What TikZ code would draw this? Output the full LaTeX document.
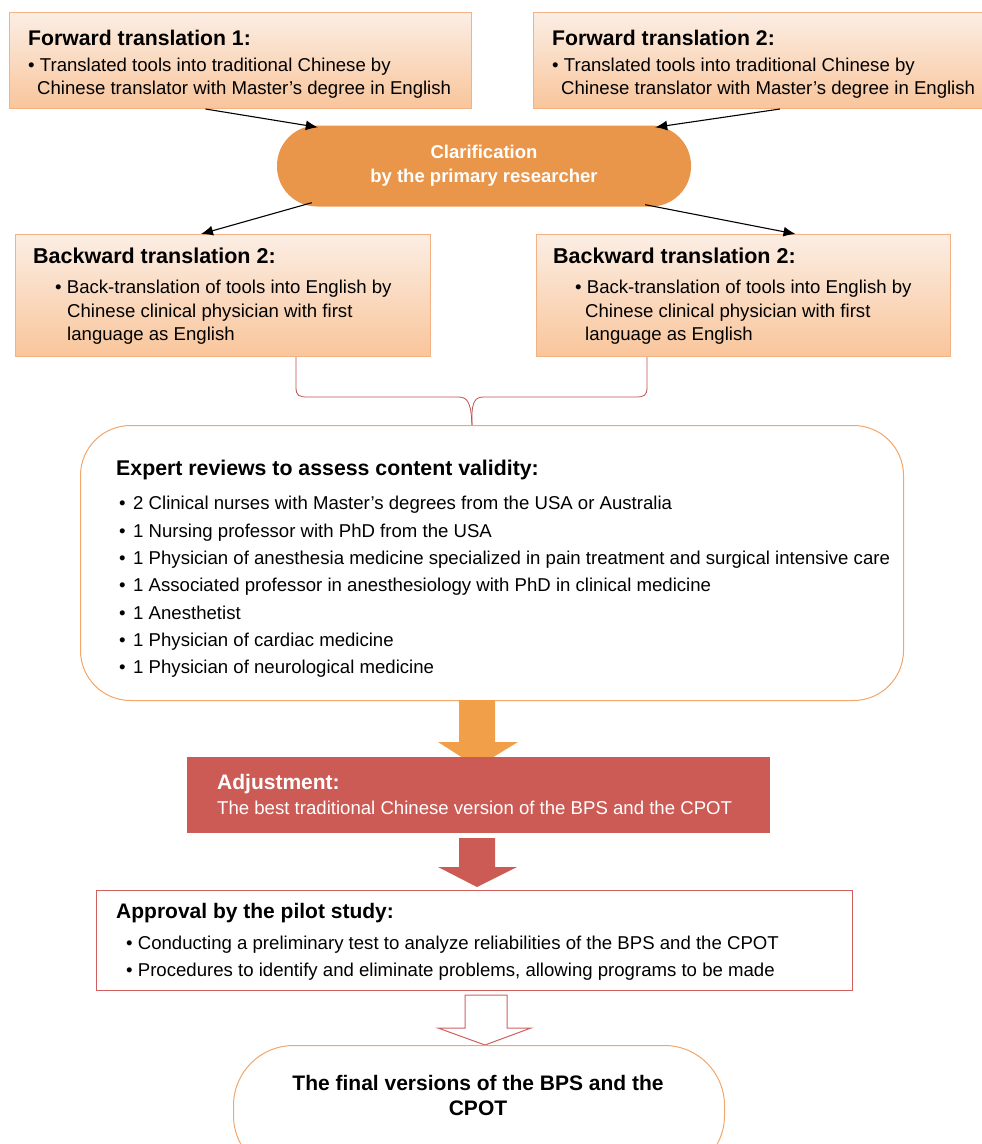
\documentclass[tikz,border=0pt]{standalone}
\usepackage{fontspec}
\setmainfont{Liberation Sans}
\usetikzlibrary{calc,arrows.meta}

\definecolor{boxtop}{HTML}{FBEEE4}
\definecolor{boxbot}{HTML}{F9C59B}
\definecolor{boxline}{HTML}{F4B183}
\definecolor{clarfill}{HTML}{E9964A}
\definecolor{orangeline}{HTML}{F2A66A}
\definecolor{orangearrow}{HTML}{F29F4A}
\definecolor{adjfill}{HTML}{CD5B55}
\definecolor{redline}{HTML}{D0605E}
\definecolor{braceline}{HTML}{C0504D}

\begin{document}
\begin{tikzpicture}[x=1pt,y=-1pt,
    transbox/.style={draw=boxline, line width=1pt, top color=boxtop, bottom color=boxbot,
      anchor=north west, inner sep=0pt},
    boxtext/.style={anchor=north west, align=left, inner sep=0pt},
    thinarrow/.style={-{Latex[length=12pt,width=10pt]}, line width=1.1pt},
    brace/.style={draw=braceline, line width=0.8pt}]
  \useasboundingbox (0,0) rectangle (982,1144);
  \clip (0,0) rectangle (982,1144);

  % forward translations
  \node[transbox, minimum width=462pt, minimum height=96pt] (fwd1) at (9,12) {};
  \node[transbox, minimum width=449pt, minimum height=96pt] (fwd2) at (533,12) {};
  \node[boxtext, font=\fontsize{18.6}{23}\selectfont] (fwd1txt) at (28,30)
    {{\bfseries\fontsize{21.2}{23}\selectfont Forward translation 1:}\\[3pt]
     \textbullet\ Translated tools into traditional Chinese by\\
     \hspace*{9pt}Chinese translator with Master's degree in English};
  \node[boxtext, font=\fontsize{18.6}{23}\selectfont] (fwd2txt) at (552,30)
    {{\bfseries\fontsize{21.2}{23}\selectfont Forward translation 2:}\\[3pt]
     \textbullet\ Translated tools into traditional Chinese by\\
     \hspace*{9pt}Chinese translator with Master's degree in English};

  \node[fill=clarfill, text=white, font=\bfseries\fontsize{18.5}{24}\selectfont, align=center,
    rounded corners=40pt, minimum width=414pt, minimum height=81pt] (clar) at (484,166)
    {Clarification\\by the primary researcher};

  % backward translations
  \node[transbox, minimum width=415pt, minimum height=122pt] (bwd1) at (15,234) {};
  \node[transbox, minimum width=414pt, minimum height=122pt] (bwd2) at (536,234) {};
  \node[boxtext, font=\fontsize{18.6}{23.5}\selectfont] (bwd1txt) at (33,248)
    {{\bfseries\fontsize{21.5}{23.5}\selectfont Backward translation 2:}\\[6.5pt]
     \hspace*{22pt}\textbullet\ Back-translation of tools into English by\\
     \hspace*{34pt}Chinese clinical physician with first\\
     \hspace*{34pt}language as English};
  \node[boxtext, font=\fontsize{18.6}{23.5}\selectfont] (bwd2txt) at (553,248)
    {{\bfseries\fontsize{21.5}{23.5}\selectfont Backward translation 2:}\\[6.5pt]
     \hspace*{22pt}\textbullet\ Back-translation of tools into English by\\
     \hspace*{32pt}Chinese clinical physician with first\\
     \hspace*{32pt}language as English};

  \draw[thinarrow] ($(fwd1.south)+(-35,0)$) -- ($(clar.north west)+(41,2)$);
  \draw[thinarrow] ($(fwd2.south)+(22,0)$) -- ($(clar.north east)+(-36,2)$);
  \draw[thinarrow] ($(clar.south west)+(35,-4)$) -- ($(bwd1.north)+(-22,0)$);
  \draw[thinarrow] ($(clar.south east)+(-46,-2)$) -- ($(bwd2.north)+(52,0)$);

  % expert review
  \node[draw=orangeline, line width=1pt, rounded corners=50pt, anchor=north west, inner sep=0pt,
    minimum width=823pt, minimum height=275pt] (expert) at (80,425) {};
  \node[boxtext, font=\fontsize{18.6}{27.3}\selectfont] (experttxt) at (116,460)
    {{\bfseries\fontsize{21.3}{27.3}\selectfont Expert reviews to assess content validity:}\\[7pt]
     \hspace*{3pt}\textbullet\hspace{7.5pt}2 Clinical nurses with Master's degrees from the USA or Australia\\
     \hspace*{3pt}\textbullet\hspace{7.5pt}1 Nursing professor with PhD from the USA\\
     \hspace*{3pt}\textbullet\hspace{7.5pt}1 Physician of anesthesia medicine specialized in pain treatment and surgical intensive care\\
     \hspace*{3pt}\textbullet\hspace{7.5pt}1 Associated professor in anesthesiology with PhD in clinical medicine\\
     \hspace*{3pt}\textbullet\hspace{7.5pt}1 Anesthetist\\
     \hspace*{3pt}\textbullet\hspace{7.5pt}1 Physician of cardiac medicine\\
     \hspace*{3pt}\textbullet\hspace{7.5pt}1 Physician of neurological medicine};

  \draw[brace] ($(bwd1.south west)+(281,0)$) -- (296,387)
    .. controls (296,396) and (299,397) .. (308,397) -- (458,397)
    .. controls (467,397) and (471,401) .. ($(expert.north)+(-20,0)$);
  \draw[brace] ($(bwd2.south west)+(111,0)$) -- (647,387)
    .. controls (647,396) and (644,397) .. (635,397) -- (484,397)
    .. controls (475,397) and (471,401) .. ($(expert.north)+(-20,0)$);

  % adjustment
  \fill[orangearrow] (459,700) -- (495,700) -- (495,742) -- (518,742) -- (477,767)
    -- (438,742) -- (459,742) -- cycle;
  \node[fill=adjfill, anchor=north west, inner sep=0pt, minimum width=583pt, minimum height=76pt]
    (adj) at (187,757) {};
  \node[boxtext, text=white, font=\fontsize{18.6}{25}\selectfont] (adjtxt) at (217,774)
    {{\bfseries\fontsize{21}{25}\selectfont Adjustment:}\\
     The best traditional Chinese version of the BPS and the CPOT};
  \fill[adjfill] (459,838) -- (495,838) -- (495,867) -- (517,867) -- (477,887)
    -- (438,867) -- (459,867) -- cycle;

  % pilot study
  \node[draw=redline, line width=1.2pt, anchor=north west, inner sep=0pt,
    minimum width=756pt, minimum height=100pt] (pilot) at (96,890) {};
  \node[boxtext, font=\fontsize{18.6}{27}\selectfont] (pilottxt) at (116,903)
    {{\bfseries\fontsize{21}{27}\selectfont Approval by the pilot study:}\\[4pt]
     \hspace*{10pt}\textbullet\ Conducting a preliminary test to analyze reliabilities of the BPS and the CPOT\\
     \hspace*{10pt}\textbullet\ Procedures to identify and eliminate problems, allowing programs to be made};

  \draw[redline, fill=white, line width=1pt] (465,995) -- (507,995) -- (507,1028) -- (531,1028)
    -- (485,1045) -- (438,1028) -- (465,1028) -- cycle;

  % final version
  \node[draw=orangeline, line width=1pt, rounded corners=60pt, anchor=north west, inner sep=0pt,
    minimum width=491pt, minimum height=130pt] (final) at (233,1045) {};
  \node[align=center, font=\bfseries\fontsize{21}{25}\selectfont] (finaltxt) at (478,1095)
    {The final versions of the BPS and the\\CPOT};
\end{tikzpicture}
\end{document}
